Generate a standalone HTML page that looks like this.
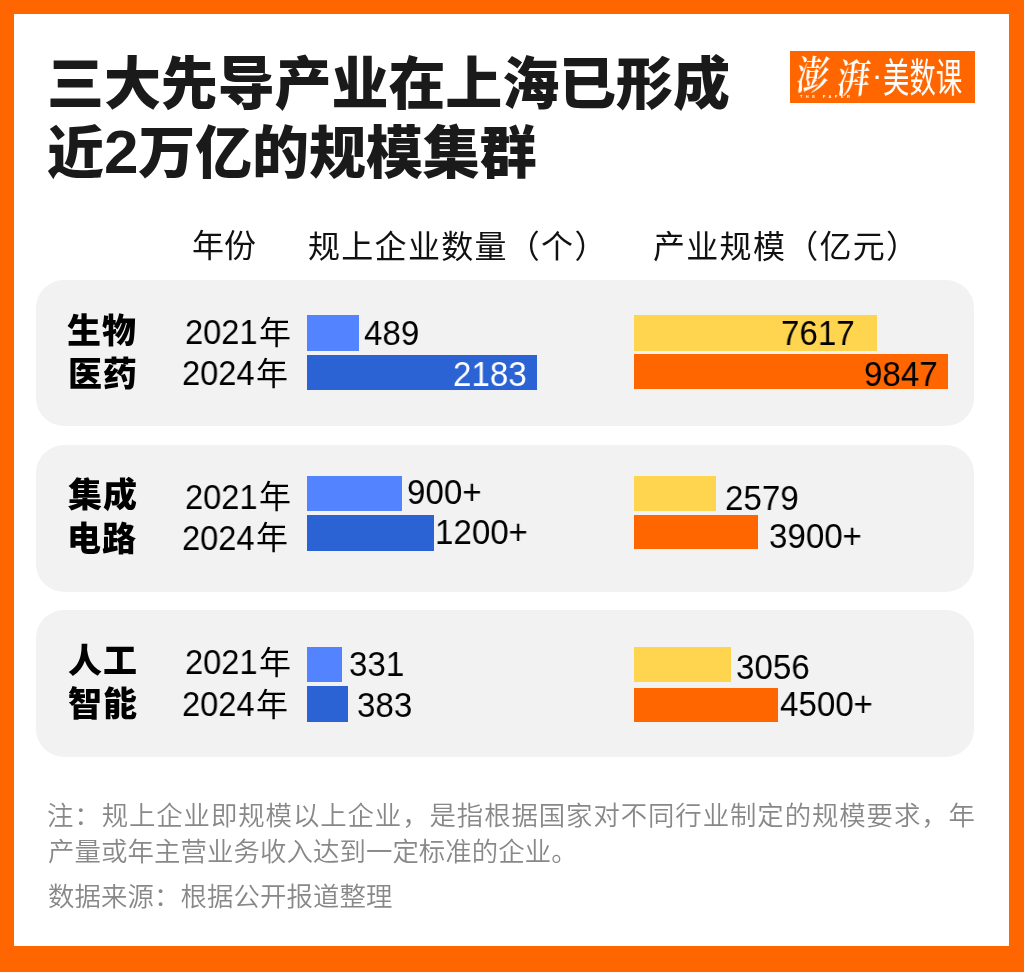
<!DOCTYPE html>
<html lang="zh-CN">
<head>
<meta charset="utf-8">
<title>三大先导产业在上海已形成近2万亿的规模集群</title>
<style>
html,body{margin:0;padding:0;}
body{width:1024px;height:972px;background:#ff6600;position:relative;overflow:hidden;
  font-family:"Liberation Sans","Noto Sans CJK SC",sans-serif;color:#111;}
.card{position:absolute;left:14px;top:14px;width:995px;height:932px;background:#fff;}
.t{position:absolute;white-space:nowrap;line-height:1;will-change:transform;}
.n2{font-size:62px;line-height:0;}
.title{font-family:"Liberation Sans","Noto Sans CJK SC",sans-serif;font-weight:900;font-size:57px;letter-spacing:-0.1px;color:#1a1a1a;}
.hd{font-family:"Liberation Sans","Noto Sans CJK SC",sans-serif;font-size:32px;color:#111;letter-spacing:1.3px;}
.panel{position:absolute;left:36px;width:938px;background:#f2f2f2;border-radius:28px;}
.cat{font-family:"Liberation Sans","Noto Sans CJK SC",sans-serif;font-weight:900;font-size:34px;color:#000;letter-spacing:1px;}
.yr{font-family:"Liberation Sans","Noto Sans CJK SC",sans-serif;font-size:35px;color:#000;transform-origin:0 0;transform:scaleX(0.93);}
.yn{font-family:"Liberation Sans","Noto Sans CJK SC",sans-serif;font-size:32px;color:#000;}
.val{font-family:"Liberation Sans","Noto Sans CJK SC",sans-serif;font-size:35px;color:#000;transform-origin:0 0;transform:scaleX(0.945);}
.bar{position:absolute;}
.b1{background:#5383ff;}
.b2{background:#2b63d5;}
.y1{background:#ffd54f;}
.y2{background:#ff6600;}
.note{font-family:"Liberation Sans","Noto Sans CJK SC",sans-serif;font-weight:350;font-size:26.4px;color:#888888;letter-spacing:0;}
.lgc{font-family:"Liberation Serif","Noto Serif CJK SC",serif;font-weight:600;font-size:38px;color:#fff;transform-origin:0 0;transform:scaleX(0.85) skewX(-8deg);}
.logo{position:absolute;left:790px;top:51px;width:185px;height:52px;background:#ff6600;}
</style>
</head>
<body>
<div class="card"></div>

<div class="t title" id="ti1" style="left:46.8px;top:56.3px;">三大先导产业在上海已形成</div>
<div class="t title" id="ti2" style="left:47.1px;top:124.5px;">近<span class="n2">2</span>万亿的规模集群</div>

<div class="logo"></div>
<div class="t lgc" id="lg1" style="left:799px;top:56.5px;">澎</div>
<div class="t lgc" id="lg1b" style="left:839.5px;top:59.5px;">湃</div>
<div class="t" id="lg2" style="left:873.8px;top:66.5px;font-family:'Liberation Sans','Noto Sans CJK SC',sans-serif;font-weight:700;font-size:22px;color:#fff;">·</div>
<div class="t" id="lg3" style="left:882.5px;top:57.8px;font-family:'Liberation Sans','Noto Sans CJK SC',sans-serif;font-weight:400;font-size:40px;color:#fff;transform-origin:0 0;transform:scaleX(0.66);">美数课</div>
<div class="t" id="lg4" style="left:799.8px;top:94.8px;font-family:'Liberation Sans',sans-serif;font-weight:700;font-size:4px;letter-spacing:3.4px;color:#fff;">THE PAPER</div>

<div class="t hd" id="h1" style="letter-spacing:0;left:191.5px;top:229.5px;">年份</div>
<div class="t hd" id="h2" style="left:307.8px;top:230.8px;">规上企业数量（个）</div>
<div class="t hd" id="h3" style="left:652.9px;top:230.9px;">产业规模（亿元）</div>

<div class="panel" style="top:280px;height:146px;"></div>
<div class="panel" style="top:445px;height:147px;"></div>
<div class="panel" style="top:610px;height:147px;"></div>

<!-- panel 1 -->
<div class="t cat" id="c1a" style="left:67.1px;top:313.9px;">生物</div>
<div class="t cat" id="c1b" style="left:67.7px;top:357.4px;">医药</div>
<div class="t yr" id="y1a" style="left:184.5px;top:314.1px;">2021</div>
<div class="t yn" id="y1an" style="left:258.9px;top:317.1px;">年</div>
<div class="t yr" id="y1b" style="left:182.2px;top:354.8px;">2024</div>
<div class="t yn" id="y1bn" style="left:255.8px;top:358px;">年</div>
<div class="bar b1" style="left:307px;top:315px;width:52px;height:36px;"></div>
<div class="bar b2" style="left:307px;top:355px;width:230px;height:35px;"></div>
<div class="t val" id="v1a" style="left:364.4px;top:314.6px;">489</div>
<div class="t val" id="v1b" style="left:452.5px;top:355.8px;color:#fff;">2183</div>
<div class="bar y1" style="left:634px;top:315px;width:243px;height:36px;"></div>
<div class="bar y2" style="left:634px;top:354px;width:314px;height:35px;"></div>
<div class="t val" id="w1a" style="left:781.1px;top:314.6px;">7617</div>
<div class="t val" id="w1b" style="left:864px;top:356.2px;">9847</div>

<!-- panel 2 -->
<div class="t cat" id="c2a" style="left:67.6px;top:477.8px;">集成</div>
<div class="t cat" id="c2b" style="left:67.1px;top:522px;">电路</div>
<div class="t yr" id="y2a" style="left:184.5px;top:478.8px;">2021</div>
<div class="t yn" id="y2an" style="left:258.9px;top:481px;">年</div>
<div class="t yr" id="y2b" style="left:182.2px;top:519.8px;">2024</div>
<div class="t yn" id="y2bn" style="left:255.8px;top:521.8px;">年</div>
<div class="bar b1" style="left:307px;top:476px;width:95px;height:35px;"></div>
<div class="bar b2" style="left:307px;top:515px;width:127px;height:36px;"></div>
<div class="t val" id="v2a" style="left:406.8px;top:473.8px;">900+</div>
<div class="t val" id="v2b" style="left:435.3px;top:514.2px;">1200+</div>
<div class="bar y1" style="left:634px;top:476px;width:82px;height:35px;"></div>
<div class="bar y2" style="left:634px;top:515px;width:124px;height:34px;"></div>
<div class="t val" id="w2a" style="left:724.5px;top:479.8px;">2579</div>
<div class="t val" id="w2b" style="left:768.6px;top:517.7px;">3900+</div>

<!-- panel 3 -->
<div class="t cat" id="c3a" style="left:67.6px;top:644px;">人工</div>
<div class="t cat" id="c3b" style="left:67.6px;top:687.3px;">智能</div>
<div class="t yr" id="y3a" style="left:184.5px;top:644.3px;">2021</div>
<div class="t yn" id="y3an" style="left:258.9px;top:646.8px;">年</div>
<div class="t yr" id="y3b" style="left:182.2px;top:685.5px;">2024</div>
<div class="t yn" id="y3bn" style="left:255.8px;top:688.5px;">年</div>
<div class="bar b1" style="left:307px;top:647px;width:35px;height:35px;"></div>
<div class="bar b2" style="left:307px;top:686px;width:41px;height:36px;"></div>
<div class="t val" id="v3a" style="left:349.3px;top:646px;">331</div>
<div class="t val" id="v3b" style="left:356.6px;top:687.2px;">383</div>
<div class="bar y1" style="left:634px;top:647px;width:97px;height:35px;"></div>
<div class="bar y2" style="left:634px;top:688px;width:144px;height:34px;"></div>
<div class="t val" id="w3a" style="left:735.7px;top:648.5px;">3056</div>
<div class="t val" id="w3b" style="left:780.1px;top:686.2px;">4500+</div>

<!-- notes -->
<div class="t note" id="n1" style="letter-spacing:0.93px;left:47px;top:802.6px;">注：规上企业即规模以上企业，是指根据国家对不同行业制定的规模要求，年</div>
<div class="t note" id="n2" style="letter-spacing:0.1px;left:48.4px;top:838.7px;">产量或年主营业务收入达到一定标准的企业。</div>
<div class="t note" id="n3" style="letter-spacing:0.1px;left:48px;top:883.7px;">数据来源：根据公开报道整理</div>
</body>
</html>
